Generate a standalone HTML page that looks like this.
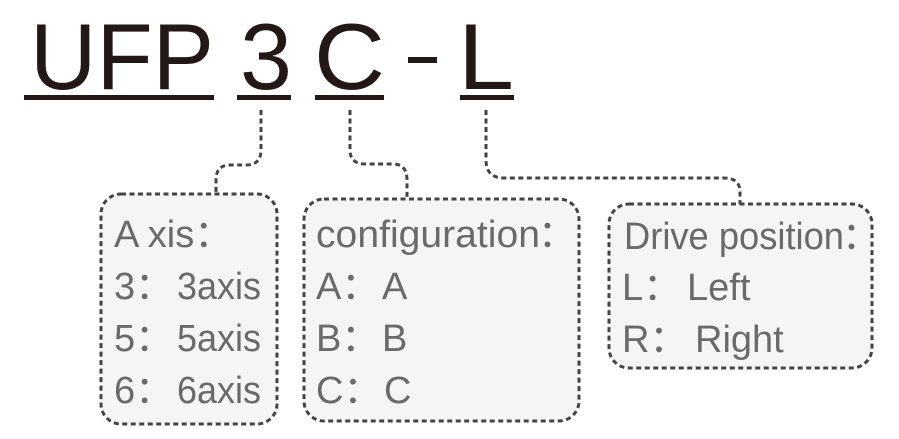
<!DOCTYPE html>
<html><head><meta charset="utf-8"><style>
html,body{margin:0;padding:0;background:#fff;}
svg{display:block;}
.big{font-family:"Liberation Sans",sans-serif;font-size:94px;fill:#231815;}
.t{font-family:"Liberation Sans","Noto Sans CJK SC",sans-serif;font-size:38px;fill:#6a6a6a;}
.box{fill:#f5f5f5;stroke:#444;stroke-width:3;stroke-dasharray:5 3.5;}
.con{fill:none;stroke:#444;stroke-width:3;stroke-dasharray:5 3.5;}
</style></head><body>
<svg width="899" height="439" viewBox="0 0 899 439" xmlns="http://www.w3.org/2000/svg">
<text class="big" x="30" y="89" textLength="184" lengthAdjust="spacingAndGlyphs">UFP</text>
<text class="big" x="240" y="89" textLength="52" lengthAdjust="spacingAndGlyphs">3</text>
<text class="big" x="314" y="89" textLength="71" lengthAdjust="spacingAndGlyphs">C</text>
<rect x="408" y="57" width="29" height="6" fill="#231815"/>
<text class="big" x="458" y="89" textLength="56" lengthAdjust="spacingAndGlyphs">L</text>
<rect x="24" y="95" width="190" height="5" fill="#231815"/>
<rect x="237" y="95" width="54" height="5" fill="#231815"/>
<rect x="315" y="95" width="69" height="5" fill="#231815"/>
<rect x="460" y="95" width="54" height="5" fill="#231815"/>

<path class="con" d="M261 110 V150 Q261 165 246 165 H230 Q216 165 216 180 V193"/>
<path class="con" d="M350 110 V150 Q350 164 365 164 H393 Q407 164 407 180 V198"/>
<path class="con" d="M486 110 V160 Q486 178 504 178 H724 Q740 178 740 192 V204"/>

<rect class="box" x="101" y="194" width="176" height="230" rx="20"/>
<rect class="box" x="304" y="199" width="275" height="222" rx="20"/>
<rect class="box" x="609" y="204" width="263" height="164" rx="20"/>

<text class="t" x="114" y="247">A xis：</text>
<text class="t" x="114" y="299">3：</text><text class="t" x="177" y="299" textLength="84" lengthAdjust="spacingAndGlyphs">3axis</text>
<text class="t" x="114" y="351">5：</text><text class="t" x="177" y="351" textLength="84" lengthAdjust="spacingAndGlyphs">5axis</text>
<text class="t" x="114" y="403">6：</text><text class="t" x="177" y="403" textLength="84" lengthAdjust="spacingAndGlyphs">6axis</text>

<text class="t" x="316" y="247" textLength="224" lengthAdjust="spacingAndGlyphs">configuration</text><text class="t" x="538" y="247">：</text>
<text class="t" x="316" y="299">A：</text><text class="t" x="382" y="299">A</text>
<text class="t" x="316" y="351">B：</text><text class="t" x="382" y="351">B</text>
<text class="t" x="316" y="403">C：</text><text class="t" x="384" y="403">C</text>

<text class="t" x="624" y="249" textLength="220" lengthAdjust="spacingAndGlyphs">Drive position</text><text class="t" x="842" y="249">：</text>
<text class="t" x="622" y="300">L：</text><text class="t" x="687" y="300">Left</text>
<text class="t" x="622" y="352">R：</text><text class="t" x="695" y="352">Right</text>
</svg>
</body></html>
